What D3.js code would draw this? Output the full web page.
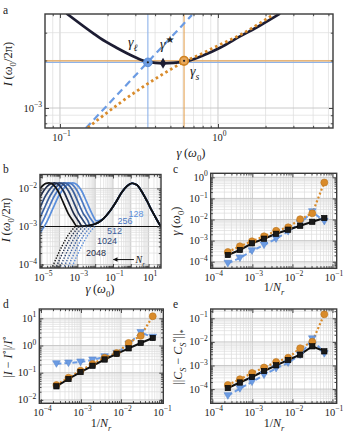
<!DOCTYPE html>
<html><head><meta charset="utf-8">
<script src="https://cdn.jsdelivr.net/npm/d3@7"></script>
<style>
body{margin:0;background:#fff}
svg{display:block}
text{font-family:"Liberation Serif","DejaVu Serif",serif;fill:#222}
</style></head>
<body><svg id="c" width="345" height="433"></svg>
<script>
// ---------------- DATA ----------------
// panel a
const aBlackGamma = [0.110,0.1625,0.1795,0.2296,0.290,0.360,0.449,0.609,0.804,1.03,1.378,1.845,2.467];
const aBlackI     = [3.97e-3,2.97e-3,2.77e-3,2.40e-3,2.13e-3,1.96e-3,1.92e-3,1.96e-3,2.15e-3,2.41e-3,2.84e-3,3.33e-3,3.96e-3];
const aOrangeGamma = [0.150,0.198,0.240,0.290,0.356,0.430,0.519,0.609,0.769,1.03,1.378,1.845,2.26];
const aOrangeI     = [7.5e-4,9.32e-4,1.077e-3,1.233e-3,1.417e-3,1.599e-3,1.791e-3,1.965e-3,2.18e-3,2.52e-3,2.90e-3,3.45e-3,3.93e-3];
const aBlueGamma = [0.146,0.684];
const aBlueI     = [7.46e-4,3.88e-3];
const aGammaL = 0.36, aIL = 1.946e-3;
const aGammaS = 0.61, aIS = 1.99e-3;
const aGammaStar = 0.449, aIStar = 1.92e-3;

// panel b  (solid: left part per N_r + shared right part; dotted: low-gamma branch)
const bNr = [128,256,512,1024,2048,4096];
const bColors = ['#5b8fdc','#4c79c4','#3d62a0','#2e4877','#1f2b48','#111111'];
const b128G  = [7.94e-6,1.89e-5,4.10e-5,8.91e-5,1.94e-4,3.70e-4,5.46e-4,9.16e-4,1.75e-3,3.34e-3,6.37e-3,1.22e-2];
const b128I  = [6.75e-4,1.31e-3,2.89e-3,6.35e-3,1.09e-2,1.36e-2,1.40e-2,1.27e-2,8.59e-3,4.42e-3,2.26e-3,1.40e-3];
const b256G  = [7.94e-6,1.07e-5,2.32e-5,5.05e-5,1.10e-4,2.09e-4,3.09e-4,5.19e-4,9.91e-4,1.89e-3,3.61e-3,6.89e-3];
const b256I  = [1.04e-3,1.31e-3,2.89e-3,6.35e-3,1.09e-2,1.36e-2,1.40e-2,1.27e-2,8.59e-3,4.42e-3,2.26e-3,1.40e-3];
const b512G  = [7.94e-6,1.33e-5,2.89e-5,6.30e-5,1.20e-4,1.77e-4,2.97e-4,5.68e-4,1.08e-3,2.07e-3,3.94e-3];
const b512I  = [1.71e-3,2.89e-3,6.35e-3,1.09e-2,1.36e-2,1.40e-2,1.27e-2,8.59e-3,4.42e-3,2.26e-3,1.40e-3];
const b1024G = [7.94e-6,1.61e-5,3.52e-5,6.70e-5,9.89e-5,1.66e-4,3.17e-4,6.05e-4,1.15e-3,2.20e-3,3.56e-3];
const b1024I = [3.09e-3,6.35e-3,1.09e-2,1.36e-2,1.40e-2,1.27e-2,8.59e-3,4.42e-3,2.26e-3,1.40e-3,1.06e-3];
const b2048G = [7.94e-6,1.85e-5,3.52e-5,5.19e-5,8.71e-5,1.66e-4,3.18e-4,6.05e-4,1.16e-3,1.87e-3];
const b2048I = [5.96e-3,1.09e-2,1.36e-2,1.40e-2,1.27e-2,8.59e-3,4.42e-3,2.26e-3,1.40e-3,1.02e-3];
const b4096G = [7.94e-6,1.73e-5,2.55e-5,4.28e-5,8.17e-5,1.56e-4,2.97e-4,5.68e-4,9.16e-4];
const b4096I = [9.98e-3,1.36e-2,1.40e-2,1.27e-2,8.59e-3,4.42e-3,2.26e-3,1.40e-3,1.02e-3];
const bCommonG = [1.58e-3,2.68e-3,5.01e-3,9.77e-3,2.75e-2,6.81e-2,0.148,0.321,0.614,1.17,2.23,4.27,8.15,15.6,29.7,49.9];
const bCommonI = [1.01e-3,1.03e-3,1.08e-3,1.16e-3,1.57e-3,2.56e-3,4.42e-3,8.09e-3,1.16e-2,1.37e-2,1.24e-2,8.09e-3,4.69e-3,2.56e-3,1.48e-3,9.7e-4];
const bDotI     = [7.59e-5,2.94e-4,5.97e-4,9.89e-4];
const bDot128G  = [4.43e-4,1.66e-3,3.89e-3,9.25e-3];
const bDot256G  = [2.67e-4,9.98e-4,2.34e-3,5.57e-3];
const bDot512G  = [1.61e-4,6.01e-4,1.41e-3,3.36e-3];
const bDot1024G = [9.68e-5,3.62e-4,8.51e-4,2.02e-3];
const bDot2048G = [5.83e-5,2.18e-4,5.13e-4,1.22e-3];
const bDot4096G = [3.52e-5,1.32e-4,3.09e-4,7.35e-4];
const bRef = 1e-3;

// panels c, d, e
const invNr   = [2.44e-4,4.88e-4,9.77e-4,1.95e-3,3.91e-3,7.81e-3,1.56e-2,3.13e-2,6.25e-2];
const cBlack  = [2.08e-4,3.59e-4,7.45e-4,1.23e-3,2.10e-3,3.29e-3,5.03e-3,7.78e-3,1.18e-2];
const cOrange = [2.88e-4,5.37e-4,9.27e-4,1.60e-3,2.91e-3,4.27e-3,1.03e-2,1.97e-2,0.567];
const cBlue   = [8.4e-5,1.50e-4,3.29e-4,6.18e-4,1.22e-3,2.70e-3,6.5e-3,2.34e-2,8.2e-3];
const dBlack  = [3.16e-2,5.86e-2,0.106,0.18,0.306,0.495,0.789,1.24,1.89];
const dOrange = [3.53e-2,6.55e-2,0.1175,0.209,0.356,0.53,1.24,2.27,11.9];
const dBlue   = [0.214,0.227,0.247,0.293,0.387,0.516,1.13,3.0,2.02];
const eBlack  = [1.11e-4,1.90e-4,3.26e-4,5.85e-4,1.02e-3,1.71e-3,2.87e-3,6.52e-3,4.0e-3];
const eOrange = [1.49e-4,2.62e-4,4.81e-4,8.22e-4,1.41e-3,2.14e-3,5.36e-3,1.02e-2,0.149];
const eBlue   = [5.25e-5,1.05e-4,2.0e-4,3.96e-4,7.6e-4,1.30e-3,2.8e-3,1.35e-2,3.19e-3];

// ---------------- DRAWING ----------------
const BLUE='#6b9be3', ORANGE='#d98b2b', DARK='#1d1d33';
const svg=d3.select('#c');
const zip=(a,b)=>a.map((v,i)=>[v,b[i]]);

function logTicks(dom){
  const out=[];const lo=Math.floor(Math.log10(dom[0])),hi=Math.ceil(Math.log10(dom[1]));
  for(let n=lo;n<=hi;n++)for(let k=1;k<10;k++){const v=+(k*Math.pow(10,n)).toPrecision(6);if(v>=dom[0]&&v<=dom[1])out.push(v);}
  return out;
}
const isMaj=v=>Math.abs(Math.log10(v)-Math.round(Math.log10(v)))<1e-6;

function rich(g,x,y,parts,o){
  const size=o.size||10;
  const t=g.append('text').attr('x',x).attr('y',y).attr('font-size',size)
    .attr('text-anchor',o.anchor||'middle');
  if(o.fill)t.style('fill',o.fill);
  if(o.rotate)t.attr('transform',`rotate(-90,${x},${y})`);
  let off=0;
  parts.forEach(p=>{
    const s=p[0],k=p[1]||'';
    let tg=0,fs=size;
    if(k.includes('sub')){tg=size*0.3;fs=size*0.7;}
    if(k.includes('sup')){tg=-size*0.42;fs=size*0.72;}
    const ts=t.append('tspan').attr('dy',tg-off).attr('font-size',fs).text(s);
    if(k.startsWith('i'))ts.attr('font-style','italic');
    if(p[2])ts.style('font-family',p[2]);
    off=tg;
  });
  return t;
}
const expLabel=v=>{const e=Math.round(Math.log10(v));return [['10'],[(e<0?'\u2212':'')+Math.abs(e),'sup']];};

function panel(p){
  const g=svg.append('g');
  const x=d3.scaleLog().domain(p.xd).range([p.l,p.r]);
  const y=d3.scaleLog().domain(p.yd).range([p.b,p.t]);
  const xt=logTicks(p.xd),yt=logTicks(p.yd);
  const gg=g.append('g');
  gg.selectAll('line.gx').data(xt).join('line').attr('x1',d=>x(d)).attr('x2',d=>x(d))
    .attr('y1',p.t).attr('y2',p.b).attr('stroke',d=>isMaj(d)?'#c4c4c4':'#dcdcdc').attr('stroke-width',d=>isMaj(d)?0.9:0.7);
  gg.selectAll('line.gy').data(yt).join('line').attr('y1',d=>y(d)).attr('y2',d=>y(d))
    .attr('x1',p.l).attr('x2',p.r).attr('stroke',d=>isMaj(d)?'#c4c4c4':'#dcdcdc').attr('stroke-width',d=>isMaj(d)?0.9:0.7);
  const id='clip_'+p.name;
  svg.append('clipPath').attr('id',id).append('rect').attr('x',p.l).attr('y',p.t).attr('width',p.r-p.l).attr('height',p.b-p.t);
  const plot=g.append('g').attr('clip-path',`url(#${id})`);
  return {g,plot,x,y,p,xt,yt};
}
function axes(P,xl,yl){
  const {g,x,y,p,xt,yt}=P;
  const ag=g.append('g');
  const xm=xt.filter(isMaj),xn=xt.filter(v=>!isMaj(v)),ym=yt.filter(isMaj),yn=yt.filter(v=>!isMaj(v));
  [[d3.axisBottom,p.b],[d3.axisTop,p.t]].forEach(([ax,pos])=>{
    ag.append('g').attr('transform',`translate(0,${pos})`).call(ax(x).tickValues(xm).tickSize(-4).tickFormat(''));
    ag.append('g').attr('transform',`translate(0,${pos})`).call(ax(x).tickValues(xn).tickSize(-2.2).tickFormat(''));
  });
  [[d3.axisLeft,p.l],[d3.axisRight,p.r]].forEach(([ax,pos])=>{
    ag.append('g').attr('transform',`translate(${pos},0)`).call(ax(y).tickValues(ym).tickSize(-4).tickFormat(''));
    ag.append('g').attr('transform',`translate(${pos},0)`).call(ax(y).tickValues(yn).tickSize(-2.2).tickFormat(''));
  });
  ag.selectAll('.domain').remove();
  ag.selectAll('.tick line').attr('stroke','#333').attr('stroke-width',0.9);
  g.append('rect').attr('x',p.l).attr('y',p.t).attr('width',p.r-p.l).attr('height',p.b-p.t)
    .attr('fill','none').attr('stroke','#3a3a3a').attr('stroke-width',1.4);
  xl.forEach(v=>rich(g,x(v)+1.5,p.b+12.5,expLabel(v),{size:10.5}));
  yl.forEach(v=>rich(g,p.l-3,y(v)+3.5,expLabel(v),{size:10.5,anchor:'end'}));
}
function line(P,xs,ys,st,curve){
  return P.plot.append('path').datum(zip(xs,ys))
    .attr('d',d3.line().x(d=>P.x(d[0])).y(d=>P.y(d[1])).curve(curve||d3.curveMonotoneX))
    .attr('fill','none').attr('stroke',st.c).attr('stroke-width',st.w)
    .attr('stroke-dasharray',st.dash||null).attr('stroke-linecap',st.cap||'butt');
}
function markers(P,xs,ys,type,color,stroke){
  const g=P.g.append('g');
  zip(xs,ys).forEach(([a,b])=>{
    const cx=P.x(a),cy=P.y(b);
    if(type==='sq') g.append('rect').attr('x',cx-2.7).attr('y',cy-2.7).attr('width',5.4).attr('height',5.4).attr('fill',color).attr('stroke',stroke).attr('stroke-width',0.6);
    if(type==='ci') g.append('circle').attr('cx',cx).attr('cy',cy).attr('r',3.5).attr('fill',color).attr('stroke',stroke).attr('stroke-width',0.6);
    if(type==='tr') g.append('path').attr('d',`M${cx-3.8},${cy-3}L${cx+3.8},${cy-3}L${cx},${cy+3.6}Z`).attr('fill',color).attr('stroke',stroke).attr('stroke-width',0.6);
  });
}
function letter(s,x,y){svg.append('text').attr('x',x).attr('y',y).attr('font-size',11.5).text(s);}

// ---- panel a ----
const A=panel({name:'a',l:45,r:333,t:14,b:128,xd:[0.0804,5.344],yd:[7.47e-4,3.94e-3]});
A.plot.append('line').attr('x1',A.x(aGammaL)).attr('x2',A.x(aGammaL)).attr('y1',A.p.t).attr('y2',A.p.b).attr('stroke','#8db3ea').attr('stroke-width',1.1);
A.plot.append('line').attr('x1',A.x(aGammaS)).attr('x2',A.x(aGammaS)).attr('y1',A.p.t).attr('y2',A.p.b).attr('stroke','#e6a557').attr('stroke-width',1.1);
A.plot.append('line').attr('y1',A.y(aIL)).attr('y2',A.y(aIL)).attr('x1',A.p.l).attr('x2',A.p.r).attr('stroke','#8db3ea').attr('stroke-width',1.1);
A.plot.append('line').attr('y1',A.y(aIS)).attr('y2',A.y(aIS)).attr('x1',A.p.l).attr('x2',A.p.r).attr('stroke','#e6a557').attr('stroke-width',1.1);
line(A,aBlackGamma,aBlackI,{c:DARK,w:2.7});
line(A,aBlueGamma,aBlueI,{c:BLUE,w:2.2,dash:'7,4.5'},d3.curveLinear);
line(A,aOrangeGamma,aOrangeI,{c:ORANGE,w:2.8,dash:'2.6,3'});
// markers
A.g.append('circle').attr('cx',A.x(aGammaL)).attr('cy',A.y(aIL)).attr('r',4.3).attr('fill',BLUE).attr('stroke','#5d8fd8').attr('stroke-width',1);
A.g.append('circle').attr('cx',A.x(aGammaL)).attr('cy',A.y(aIL)).attr('r',1.1).attr('fill','#222');
A.g.append('circle').attr('cx',A.x(aGammaS)).attr('cy',A.y(aIS)).attr('r',4.3).attr('fill','#e8a85a').attr('stroke','#d08322').attr('stroke-width',1.6);
A.g.append('circle').attr('cx',A.x(aGammaS)).attr('cy',A.y(aIS)).attr('r',1.1).attr('fill','#222');
A.g.append('path').attr('transform',`translate(${A.x(aGammaStar)},${A.y(aIStar)})`).attr('d',d3.symbol(d3.symbolDiamond,34)()).attr('fill',DARK);
rich(A.g,A.x(0.269),A.y(2.43e-3),[['\u03B3','i'],['\u2113','isub']],{size:14,anchor:'start'});
rich(A.g,A.x(0.430),A.y(2.36e-3),[['\u03B3','i'],['\u2605','sup','"DejaVu Sans"']],{size:14,anchor:'start'});
rich(A.g,A.x(0.665),A.y(1.59e-3),[['\u03B3','i'],['s','isub']],{size:14,anchor:'start'});
axes(A,[0.1,1],[1e-3]);
rich(svg,12,64,[['I','i'],['\u2009('],['\u03C9','i'],['0','sub'],['/2\u03C0)']],{size:12.5,rotate:true});
rich(svg,191,157,[['\u03B3','i'],['\u2009('],['\u03C9','i'],['0','sub'],[')']],{size:12.5});
letter('a',3,14);

// ---- panel b ----
const B=panel({name:'b',l:40,r:161,t:174.5,b:268,xd:[7.94e-6,49.9],yd:[8.1e-5,2.33e-2]});
const bSolid=[[b128G,b128I],[b256G,b256I],[b512G,b512I],[b1024G,b1024I],[b2048G,b2048I],[b4096G,b4096I]];
const bDots=[bDot128G,bDot256G,bDot512G,bDot1024G,bDot2048G,bDot4096G];
B.plot.append('line').attr('x1',B.p.l).attr('x2',B.p.r).attr('y1',B.y(bRef)).attr('y2',B.y(bRef)).attr('stroke','#111').attr('stroke-width',1.1);
bSolid.forEach(([gs,is],k)=>{
  const last=gs[gs.length-1];
  const cg=bCommonG.filter(v=>v>last*1.05), ci=bCommonI.slice(bCommonG.length-cg.length);
  line(B,gs.concat(cg),is.concat(ci),{c:bColors[k],w:1.7});
});
bDots.forEach((gs,k)=>line(B,gs,bDotI,{c:bColors[k],w:1.4,dash:'1.4,1.4'}));
const bLab=[[1.96,1.83e-3],[0.473,1.16e-3],[0.1215,6.35e-4],[0.0461,3.47e-4],[0.0111,1.67e-4]];
bLab.forEach(([gx,iy],k)=>B.g.append('text').attr('x',B.x(gx)).attr('y',B.y(iy)).attr('text-anchor','middle')
  .attr('font-size',9).style('font-family','"Liberation Sans",Arial,sans-serif').style('fill',bColors[k]).text(bNr[k]));
B.g.append('line').attr('x1',B.x(1.5)).attr('x2',B.x(0.105)).attr('y1',B.y(1.35e-4)).attr('y2',B.y(1.35e-4)).attr('stroke','#111').attr('stroke-width',1);
B.g.append('path').attr('transform',`translate(${B.x(0.1)},${B.y(1.35e-4)})`).attr('d','M0,0L4.5,-2.3L4.5,2.3Z').attr('fill','#111');
rich(B.g,B.x(1.85),B.y(1.13e-4),[['N','i'],['r','isub']],{size:10,anchor:'start'});
axes(B,[1e-5,1e-3,1e-1,1e1],[1e-4,1e-3,1e-2]);
rich(svg,10,220,[['I','i'],['\u2009('],['\u03C9','i'],['0','sub'],['/2\u03C0)']],{size:12.5,rotate:true});
rich(svg,100,293,[['\u03B3','i'],['\u2009('],['\u03C9','i'],['0','sub'],[')']],{size:12.5});
letter('b',3,173);

// ---- panels c, d, e ----
function scatterPanel(P,bl,or,bu){
  line(P,invNr,bu,{c:BLUE,w:2,dash:'5,3'},d3.curveLinear);
  line(P,invNr,or,{c:ORANGE,w:2.2,dash:'2,2.2'},d3.curveLinear);
  line(P,invNr,bl,{c:'#111',w:2},d3.curveLinear);
  markers(P,invNr,bu,'tr',BLUE,'#5a88cc');
  markers(P,invNr,or,'ci',ORANGE,'#b8741f');
  markers(P,invNr,bl,'sq','#1a1a1a','#000');
}
const xD=[9.1e-5,0.1274];
const C=panel({name:'c',l:210.7,r:336.7,t:173.3,b:268.3,xd:xD,yd:[4.87e-5,1.55]});
scatterPanel(C,cBlack,cOrange,cBlue);
axes(C,[1e-4,1e-3,1e-2,1e-1],[1e-4,1e-3,1e-2,1e-1,1]);
rich(svg,180,221,[['\u03B3','i'],['\u2009('],['\u03C9','i'],['0','sub'],[')']],{size:12.5,rotate:true});
rich(svg,274,291,[['1/'],['N','i'],['r','isub']],{size:12});
letter('c',173,173);

const D=panel({name:'d',l:39.3,r:163.3,t:309,b:403.3,xd:[9.1e-5,0.1148],yd:[7.5e-3,22]});
scatterPanel(D,dBlack,dOrange,dBlue);
axes(D,[1e-4,1e-3,1e-2,1e-1],[1e-2,1e-1,1,10]);
rich(svg,12,357,[['|'],['I','i'],[' \u2212 '],['I','i'],['\u2218','sup'],['|/'],['I','i'],['\u2218','sup']],{size:12,rotate:true});
rich(svg,101,427,[['1/'],['N','i'],['r','isub']],{size:12});
letter('d',3,308);

const E=panel({name:'e',l:210.7,r:336.7,t:309,b:403.3,xd:xD,yd:[2.5e-5,0.248]});
scatterPanel(E,eBlack,eOrange,eBlue);
axes(E,[1e-4,1e-3,1e-2,1e-1],[1e-4,1e-3,1e-2,1e-1]);
rich(svg,182,357,[['||'],['C','i'],['S','isub'],[' \u2212 '],['C','i'],['S','isub'],['\u2218','sup'],['||'],['*','sub']],{size:12,rotate:true});
rich(svg,274,427,[['1/'],['N','i'],['r','isub']],{size:12});
letter('e',173,308);
</script>
</body></html>
